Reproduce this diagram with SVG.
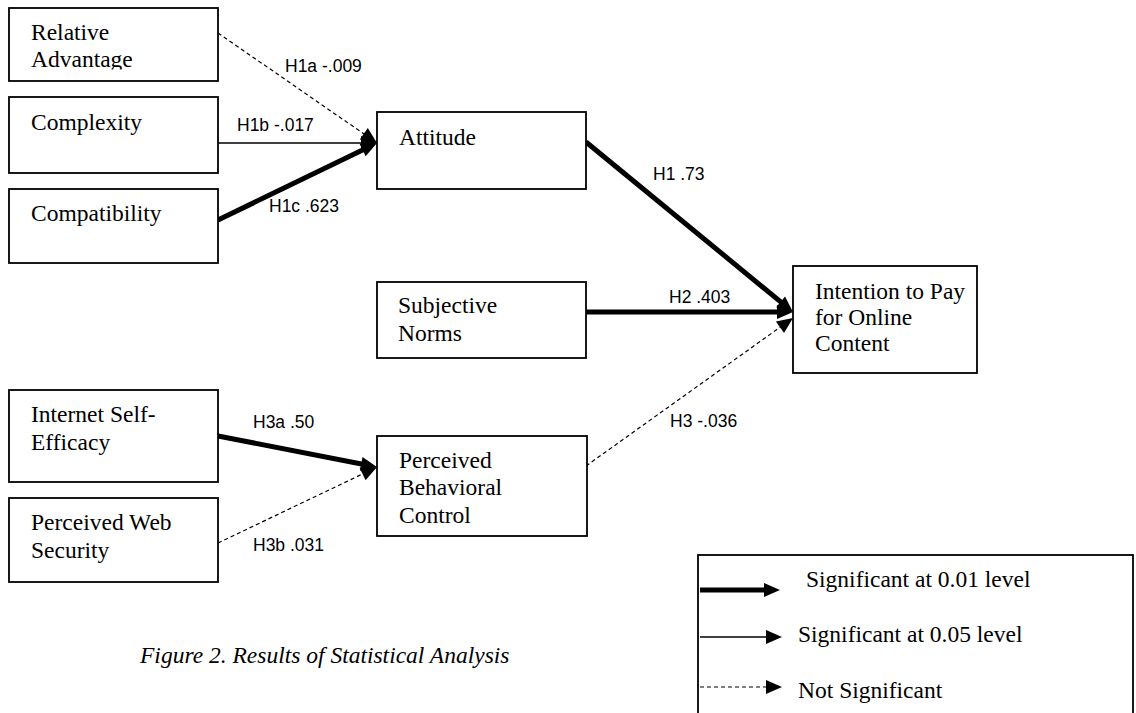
<svg xmlns="http://www.w3.org/2000/svg" width="1136" height="713" viewBox="0 0 1136 713">
<style>
.box{fill:#fff;stroke:#000;stroke-width:1.8}
.t{font-family:"Liberation Serif","Times New Roman",serif;font-size:23.5px;fill:#000}
.lab{font-family:"Liberation Sans",Arial,sans-serif;font-size:17.5px;fill:#000}
.thick{stroke:#000;stroke-width:5;fill:none;marker-end:url(#ah)}
.thin{stroke:#000;stroke-width:1.6;fill:none;marker-end:url(#ah)}
.dash{stroke:#000;stroke-width:1.2;stroke-dasharray:4 3;fill:none;marker-end:url(#ah)}
</style>
<defs>
<marker id="ah" markerUnits="userSpaceOnUse" markerWidth="16" markerHeight="14" refX="8" refY="7" orient="auto" overflow="visible">
<path d="M0,0 L16,7 L0,14 z" fill="#000"/>
</marker>
<clipPath id="clipRA"><rect x="0" y="0" width="230" height="69.5"/></clipPath>
</defs>
<rect width="1136" height="713" fill="#fff"/>

<g id="connectors">
<line class="dash" x1="218" y1="33" x2="370.4" y2="138.4"/>
<line class="thin" x1="218" y1="143" x2="369" y2="143"/>
<line class="thick" x1="218" y1="220" x2="369.8" y2="146.5"/>
<line class="thick" x1="586" y1="142" x2="786.8" y2="306.9"/>
<line class="thick" x1="586" y1="312" x2="785" y2="312"/>
<line class="dash" x1="586" y1="466" x2="786.5" y2="322.6"/>
<line class="thick" x1="218" y1="436" x2="369.1" y2="465.5"/>
<line class="dash" x1="218" y1="543" x2="369.8" y2="470.5"/>
<text class="lab" x="285" y="72">H1a -.009</text>
<text class="lab" x="237" y="131">H1b -.017</text>
<text class="lab" x="269" y="212">H1c .623</text>
<text class="lab" x="653" y="180">H1 .73</text>
<text class="lab" x="669" y="303">H2 .403</text>
<text class="lab" x="670" y="427">H3 -.036</text>
<text class="lab" x="253" y="428">H3a .50</text>
<text class="lab" x="253" y="551">H3b .031</text>
</g>

<g id="relative-advantage">
<rect class="box" x="9" y="8" width="209" height="73"/>
<text class="t" x="31" y="40" clip-path="url(#clipRA)">Relative<tspan x="31" y="67">Advantage</tspan></text>
</g>
<g id="complexity">
<rect class="box" x="9" y="97" width="209" height="76"/>
<text class="t" x="31" y="130">Complexity</text>
</g>
<g id="compatibility">
<rect class="box" x="9" y="189" width="209" height="74"/>
<text class="t" x="31" y="221">Compatibility</text>
</g>
<g id="attitude">
<rect class="box" x="377" y="112" width="209" height="77"/>
<text class="t" x="399" y="145">Attitude</text>
</g>
<g id="subjective-norms">
<rect class="box" x="377" y="282" width="209" height="76"/>
<text class="t" x="398" y="313">Subjective<tspan x="398" y="341">Norms</tspan></text>
</g>
<g id="intention">
<rect class="box" x="793" y="266" width="184" height="107"/>
<text class="t" x="815" y="299">Intention to Pay<tspan x="815" y="325">for Online</tspan><tspan x="815" y="351">Content</tspan></text>
</g>
<g id="internet-self-efficacy">
<rect class="box" x="9" y="390" width="209" height="92"/>
<text class="t" x="31" y="422">Internet Self-<tspan x="31" y="450">Efficacy</tspan></text>
</g>
<g id="perceived-web-security">
<rect class="box" x="9" y="498" width="209" height="84"/>
<text class="t" x="31" y="530">Perceived Web<tspan x="31" y="558">Security</tspan></text>
</g>
<g id="perceived-behavioral-control">
<rect class="box" x="377" y="436" width="210" height="100"/>
<text class="t" x="399" y="468">Perceived<tspan x="399" y="495">Behavioral</tspan><tspan x="399" y="523">Control</tspan></text>
</g>

<g id="legend">
<rect x="698" y="555" width="435" height="170" fill="none" stroke="#000" stroke-width="1.8"/>
<line class="thick" x1="700" y1="590" x2="772" y2="590"/>
<line class="thin" x1="700" y1="637" x2="774" y2="637"/>
<line class="dash" x1="700" y1="687" x2="774" y2="687"/>
<text class="t" x="806" y="587">Significant at 0.01 level</text>
<text class="t" x="798" y="642">Significant at 0.05 level</text>
<text class="t" x="798" y="698">Not Significant</text>
</g>

<g id="caption">
<text class="t" x="140" y="663" font-style="italic">Figure 2. Results of Statistical Analysis</text>
</g>
</svg>
